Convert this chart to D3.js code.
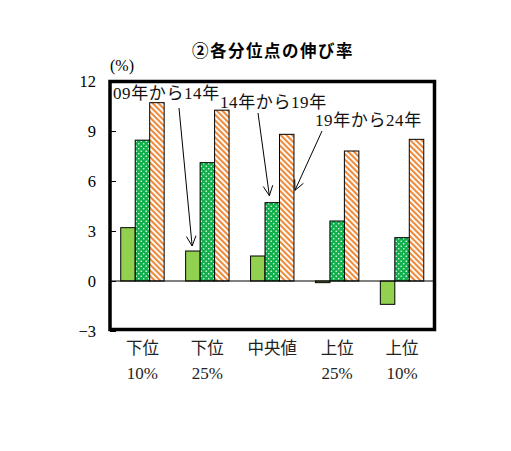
<!DOCTYPE html>
<html><head><meta charset="utf-8">
<script src="https://cdn.jsdelivr.net/npm/d3@7"></script>
<style>
body{margin:0;background:#fff;}
svg{display:block;}
</style></head>
<body>
<svg id="c" width="511" height="451"></svg>
<script>
const categories = [["下位","10%"],["下位","25%"],["中央値",""],["上位","25%"],["上位","10%"]];
const seriesNames = ["09年から14年","14年から19年","19年から24年"];
const s0914 = [3.2, 1.8, 1.5, -0.1, -1.4];
const s1419 = [8.45, 7.1, 4.7, 3.6, 2.6];
const s1924 = [10.7, 10.25, 8.8, 7.8, 8.5];
const yTicks = [-3, 0, 3, 6, 9, 12];
const title = "②各分位点の伸び率";
const unit = "(%)";

const svg = d3.select("#c");
const defs = svg.append("defs");
// dotted green pattern
const pd = defs.append("pattern").attr("id","dots").attr("patternUnits","userSpaceOnUse")
  .attr("width",5).attr("height",5);
pd.append("rect").attr("width",5).attr("height",5).attr("fill","#12b04c");
pd.append("circle").attr("cx",1.2).attr("cy",1.2).attr("r",0.8).attr("fill","#effff4");
pd.append("circle").attr("cx",3.7).attr("cy",3.7).attr("r",0.8).attr("fill","#effff4");
// orange stripes
const ps = defs.append("pattern").attr("id","stripes").attr("patternUnits","userSpaceOnUse")
  .attr("width",4).attr("height",4).attr("patternTransform","rotate(45)");
ps.append("rect").attr("width",4).attr("height",4).attr("fill","#fff");
ps.append("rect").attr("width",4).attr("height",2.1).attr("fill","#ee8a3c");

const fills = ["#92d050","url(#dots)","url(#stripes)"];
const seriesData = [s0914, s1419, s1924];

const L = 110, R = 434.5, T = 81, B = 331;
const x0 = d3.scaleBand().domain(d3.range(categories.length)).range([L, R]).paddingInner(0.331).paddingOuter(0.1655);
const x1 = d3.scaleBand().domain(d3.range(seriesNames.length)).range([0, x0.bandwidth()]);
const y = d3.scaleLinear().domain([-3, 12]).range([B, T]);

const serif = "'Liberation Serif','DejaVu Serif','Noto Sans CJK JP',serif";
const cjk = "'Liberation Serif','Noto Sans CJK JP',serif";

// title
svg.append("text").attr("x", 273).attr("y", 57).attr("text-anchor","middle")
  .attr("font-family","'Noto Sans CJK JP',sans-serif").attr("font-weight","bold")
  .attr("font-size",16.5).attr("letter-spacing",1.5).text(title);

// unit
svg.append("text").attr("x", 110).attr("y", 71).attr("font-family",serif).attr("font-size",16).text(unit);

// bars
seriesData.forEach((vals, si) => {
  svg.append("g").selectAll("rect").data(vals).join("rect")
    .attr("x", (d,i) => x0(i) + x1(si))
    .attr("width", x1.bandwidth())
    .attr("y", d => y(Math.max(0,d)))
    .attr("height", d => Math.abs(y(d) - y(0)))
    .attr("fill", fills[si]).attr("stroke","#000").attr("stroke-width",1);
});

// zero line
svg.append("line").attr("x1", L).attr("x2", R).attr("y1", y(0)).attr("y2", y(0))
  .attr("stroke","#000").attr("stroke-width",1);

// y ticks
const yAxis = d3.axisLeft(y).tickValues(yTicks).tickSize(-6).tickPadding(14)
  .tickFormat(d => d < 0 ? "−" + Math.abs(d) : d);
const ga = svg.append("g").attr("transform", `translate(${L},0)`).call(yAxis);
ga.select(".domain").remove();
ga.selectAll("line").attr("stroke","#000");
ga.selectAll("text").attr("font-family",serif).attr("font-size",16.5).attr("fill","#000");

// frame
svg.append("rect").attr("x", L).attr("y", T + 0.5).attr("width", R - L).attr("height", B - T - 2)
  .attr("fill","none").attr("stroke","#000").attr("stroke-width",3.5);

// category labels
const cg = svg.append("g").selectAll("g").data(categories).join("g")
  .attr("transform", (d,i) => `translate(${x0(i) + x0.bandwidth()/2},0)`);
cg.append("text").attr("y", 354).attr("text-anchor","middle").attr("font-family",cjk)
  .attr("font-size",16.5).attr("fill","#222").text(d => d[0]);
cg.append("text").attr("y", 379).attr("text-anchor","middle").attr("font-family",cjk)
  .attr("font-size",17).attr("fill","#222").text(d => d[1]);

// annotations
const ann = [
  {label: seriesNames[0], tx: 113, ty: 99, from: [179,108]},
  {label: seriesNames[1], tx: 220, ty: 108, from: [258,113]},
  {label: seriesNames[2], tx: 315, ty: 126, from: [322,131]}
];
const ends = [
  [x0(1) + x1(0) + x1.bandwidth()*0.45, y(s0914[1]) - 5],
  [x0(2) + x1(1) + x1.bandwidth()*0.3, y(s1419[2]) - 7],
  [x0(2) + x1(2) + x1.bandwidth() + 1, y(s1924[2]) + 56]
];
ann.forEach((a, k) => {
  svg.append("text").attr("x", a.tx).attr("y", a.ty).attr("font-family",cjk)
    .attr("font-size",17).attr("letter-spacing",0.6).attr("fill","#111").text(a.label);
  const [x2, y2] = ends[k];
  const [x1p, y1p] = a.from;
  svg.append("line").attr("x1", x1p).attr("y1", y1p).attr("x2", x2).attr("y2", y2)
    .attr("stroke","#000").attr("stroke-width",1);
  const ang = Math.atan2(y2 - y1p, x2 - x1p);
  const hl = 11, ha = 0.45;
  const p1 = [x2 - hl*Math.cos(ang - ha), y2 - hl*Math.sin(ang - ha)];
  const p2 = [x2 - hl*Math.cos(ang + ha), y2 - hl*Math.sin(ang + ha)];
  svg.append("path").attr("d", `M${p1}L${x2},${y2}L${p2}`).attr("fill","none")
    .attr("stroke","#000").attr("stroke-width",1);
});
</script>
</body></html>
